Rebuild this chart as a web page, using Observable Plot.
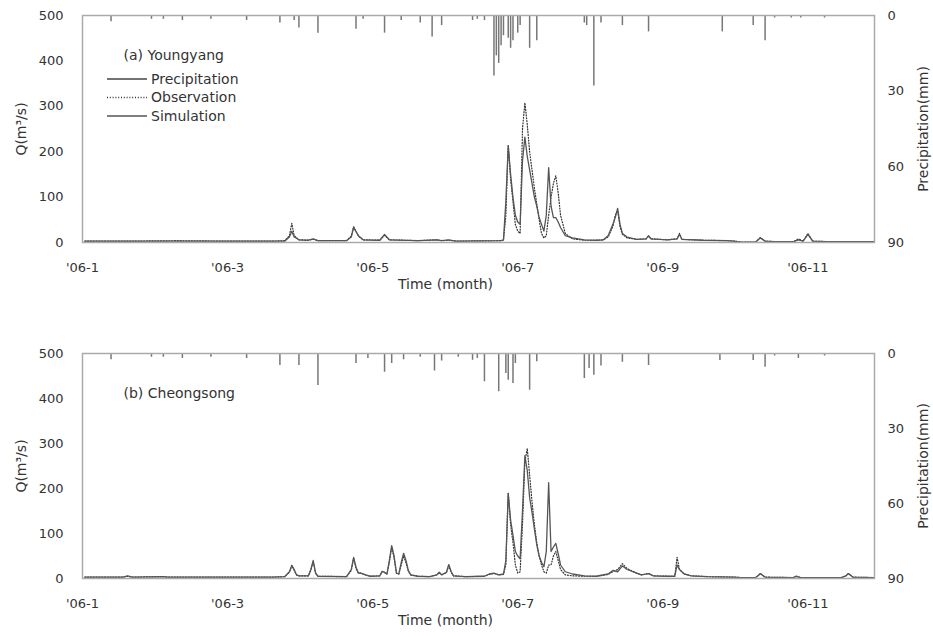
<!DOCTYPE html>
<html><head><meta charset="utf-8">
<script src="https://cdn.jsdelivr.net/npm/d3@7"></script>
<script src="https://cdn.jsdelivr.net/npm/@observablehq/plot@0.6"></script>
<style>
body{margin:0;background:#fff;}
#wrap{position:relative;width:933px;height:637px;font-family:"DejaVu Sans",sans-serif;}
#wrap svg{display:block;}
#legend{position:absolute;left:0;top:0;}
</style></head><body><div id="wrap"></div>
<script>
// x axis: day index from 2006-01-01
const tickDays = [0, 61, 122, 183, 244, 305];
const tickLabels = ["'06-1", "'06-3", "'06-5", "'06-7", "'06-9", "'06-11"];
const qTicks = [0, 100, 200, 300, 400, 500];
const precipTicks = [0, 30, 60, 90];
const legendLabels = ["Precipitation", "Observation", "Simulation"];

// (a) Youngyang discharge (m3/s)
const dayA = [1,20,40,60,80,85,87,88,89,91,95,97,99,111,113,114,116,118,125,127,129,141,149,151,154,157,176,177,178,179,180,181,182,183,184,185,186,187,188,189,190,191,192,193,194,195,196,197,198,199,200,201,203,206,211,216,219,221,223,224,225,226,227,229,233,237,238,239,246,250,251,252,261,271,274,277,283,285,287,291,299,301,303,305,307,313,333];
const simA = [3,3,3,3,3,3,12,25,12,6,5,8,4,4,12,33,15,6,5,18,6,4,6,4,6,3,4,6,90,213,150,99,60,45,40,180,232,190,160,130,100,80,55,40,25,60,165,80,55,55,45,33,15,10,6,5,6,15,40,55,75,40,20,12,7,8,15,8,6,8,18,7,5,4,3,1,1,10,3,2,2,6,3,18,3,2,2];
const obsA = [3,3,4,3,3,4,15,42,15,6,5,7,4,4,14,35,14,6,5,16,6,4,6,4,5,3,4,5,60,215,140,90,40,25,20,250,308,260,200,160,120,85,50,20,10,15,60,100,130,147,110,60,20,8,5,5,6,12,35,60,70,35,18,10,7,8,14,8,6,8,20,7,5,4,3,1,1,11,3,2,2,8,3,20,3,2,2];
// (a) precipitation (mm)
const rainDayA = [12,29,34,42,54,69,83,89,91,99,115,118,127,134,142,147,151,164,166,169,173,174,175,176,177,179,180,181,183,184,188,191,211,212,215,218,227,238,269,282,287,291,298,302,312];
const rainA = [2.5,1.5,1.5,2,1.5,2,3,2,5,7,5.5,1.5,7,2,3,8.5,4,2,1.5,2,24,16,19,12,8,9,13,10,7,4,13,10,3,4,28,3,4,6.5,6.5,4,10,1,1,1,1];

// (b) Cheongsong discharge (m3/s)
const dayB = [1,17,19,21,34,36,60,80,85,87,88,89,90,91,95,96,97,98,99,111,113,114,115,116,117,119,121,125,126,127,128,129,130,131,132,133,134,135,136,137,138,141,146,149,150,151,153,154,155,156,161,169,171,173,175,177,178,179,180,181,182,183,184,185,186,187,188,189,190,191,192,193,194,195,196,197,198,199,200,201,203,206,211,216,221,223,225,227,229,233,235,238,240,246,249,250,251,253,256,263,274,277,283,284,285,287,299,300,302,319,321,322,324,333];
const simB = [3,3,6,3,4,3,3,3,4,15,29,20,8,6,6,20,40,12,5,4,20,47,25,12,12,8,5,6,16,14,10,40,73,50,12,10,35,56,40,18,8,5,4,8,14,8,14,31,15,6,4,5,10,12,8,10,40,189,130,96,60,50,44,150,273,240,180,147,110,75,50,36,26,60,213,60,70,78,55,30,15,10,6,5,10,18,15,28,20,12,8,11,6,5,5,30,20,10,6,4,3,2,2,6,11,3,2,5,2,2,6,11,3,2];
const obsB = [3,3,5,3,4,3,3,3,4,14,29,18,8,6,6,18,38,12,5,4,18,45,22,12,12,8,5,6,15,13,10,35,70,45,12,10,30,50,35,16,8,5,4,8,13,8,13,28,14,6,4,5,9,11,8,9,30,190,120,80,30,12,15,120,260,289,230,170,120,80,50,30,15,12,30,30,50,60,40,20,8,6,5,5,9,15,20,33,22,12,8,11,6,5,5,47,20,10,6,4,3,2,2,6,11,3,2,5,2,2,6,11,3,2];
// (b) precipitation (mm)
const rainDayB = [12,29,34,42,54,69,83,91,99,115,120,127,130,135,142,148,151,158,164,166,169,175,178,179,181,182,188,191,211,213,215,218,227,238,268,282,287,291,301,312];
const rainB = [2.5,1.5,1.5,2,1.5,2,4.8,4.8,12.8,4,2,7.5,4,2.5,1.5,7,3,1.5,2.7,2,11.3,15.3,8,10.7,12,4,14.7,3.3,10,6,8.7,5,3.5,4.8,2.8,2.8,5.5,1,2,1];

const QMAX = 500, PMAX = 90;
const pToQ = p => QMAX - p * QMAX / PMAX;   // secondary (inverted) precipitation scale

function panel({days, sim, obs, rainDays, rain, title, height, marginTop, marginBottom}) {
  const series = days.map((d, i) => ({day: d, sim: sim[i], obs: obs[i]}));
  const bars = rainDays.map((d, i) => ({day: d, p: rain[i]}));
  return Plot.plot({
    width: 933, height, marginLeft: 82, marginRight: 59, marginTop, marginBottom,
    style: {fontFamily: "DejaVu Sans, sans-serif", fontSize: "13px", color: "#333", background: "#fff"},
    x: {domain: [0, 333]},
    y: {domain: [0, QMAX]},
    marks: [
      Plot.ruleX(bars, {x: "day", y1: QMAX, y2: d => pToQ(d.p), stroke: "#777", strokeWidth: 1.5}),
      Plot.line(series, {x: "day", y: "obs", stroke: "#333", strokeWidth: 1.2, strokeDasharray: "1,1.8"}),
      Plot.line(series, {x: "day", y: "sim", stroke: "#555", strokeWidth: 1.3}),
      Plot.frame({stroke: "#aaa", strokeWidth: 1.5}),
      Plot.axisX(tickDays, {tickSize: 0, tickPadding: 20, tickFormat: d => tickLabels[tickDays.indexOf(d)], label: null}),
      Plot.axisY(qTicks, {anchor: "left", tickSize: 0, tickPadding: 19, label: null}),
      Plot.axisY(precipTicks.map(pToQ), {anchor: "right", tickSize: 0, tickPadding: 13, tickFormat: q => Math.round((QMAX - q) * PMAX / QMAX), label: null}),
      Plot.text([title], {frameAnchor: "top-left", dx: 41, dy: 35, textAnchor: "start", fontSize: 14, fill: "#333"}),
      Plot.text(["Q(m³/s)"], {frameAnchor: "left", rotate: -90, textAnchor: "middle", dx: -61, fontSize: 14, fill: "#333"}),
      Plot.text(["Precipitation(mm)"], {frameAnchor: "right", rotate: -90, textAnchor: "middle", dx: 49, fontSize: 14, fill: "#333"}),
      Plot.text(["Time (month)"], {frameAnchor: "bottom", textAnchor: "middle", dx: -33, dy: 46, fontSize: 14, fill: "#333"})
    ]
  });
}

const wrap = document.getElementById("wrap");
wrap.append(panel({days: dayA, sim: simA, obs: obsA, rainDays: rainDayA, rain: rainA,
  title: "(a) Youngyang", height: 310, marginTop: 15, marginBottom: 68}));
wrap.append(panel({days: dayB, sim: simB, obs: obsB, rainDays: rainDayB, rain: rainB,
  title: "(b) Cheongsong", height: 327, marginTop: 43, marginBottom: 59}));

// legend for panel (a)
const ns = "http://www.w3.org/2000/svg";
const leg = document.createElementNS(ns, "svg");
leg.setAttribute("id", "legend");
leg.setAttribute("width", 300); leg.setAttribute("height", 130);
const styles = [{stroke: "#444", dash: null}, {stroke: "#333", dash: "1,1.8"}, {stroke: "#555", dash: null}];
legendLabels.forEach((lab, i) => {
  const y = 79 + i * 18.5;
  const ln = document.createElementNS(ns, "line");
  ln.setAttribute("x1", 107); ln.setAttribute("x2", 147);
  ln.setAttribute("y1", y); ln.setAttribute("y2", y);
  ln.setAttribute("stroke", styles[i].stroke); ln.setAttribute("stroke-width", 1.3);
  if (styles[i].dash) ln.setAttribute("stroke-dasharray", styles[i].dash);
  leg.append(ln);
  const tx = document.createElementNS(ns, "text");
  tx.setAttribute("x", 151); tx.setAttribute("y", y); tx.setAttribute("dy", "0.35em");
  tx.setAttribute("font-family", "DejaVu Sans, sans-serif"); tx.setAttribute("font-size", 14);
  tx.setAttribute("fill", "#333");
  tx.textContent = lab;
  leg.append(tx);
});
wrap.append(leg);
</script></body></html>
